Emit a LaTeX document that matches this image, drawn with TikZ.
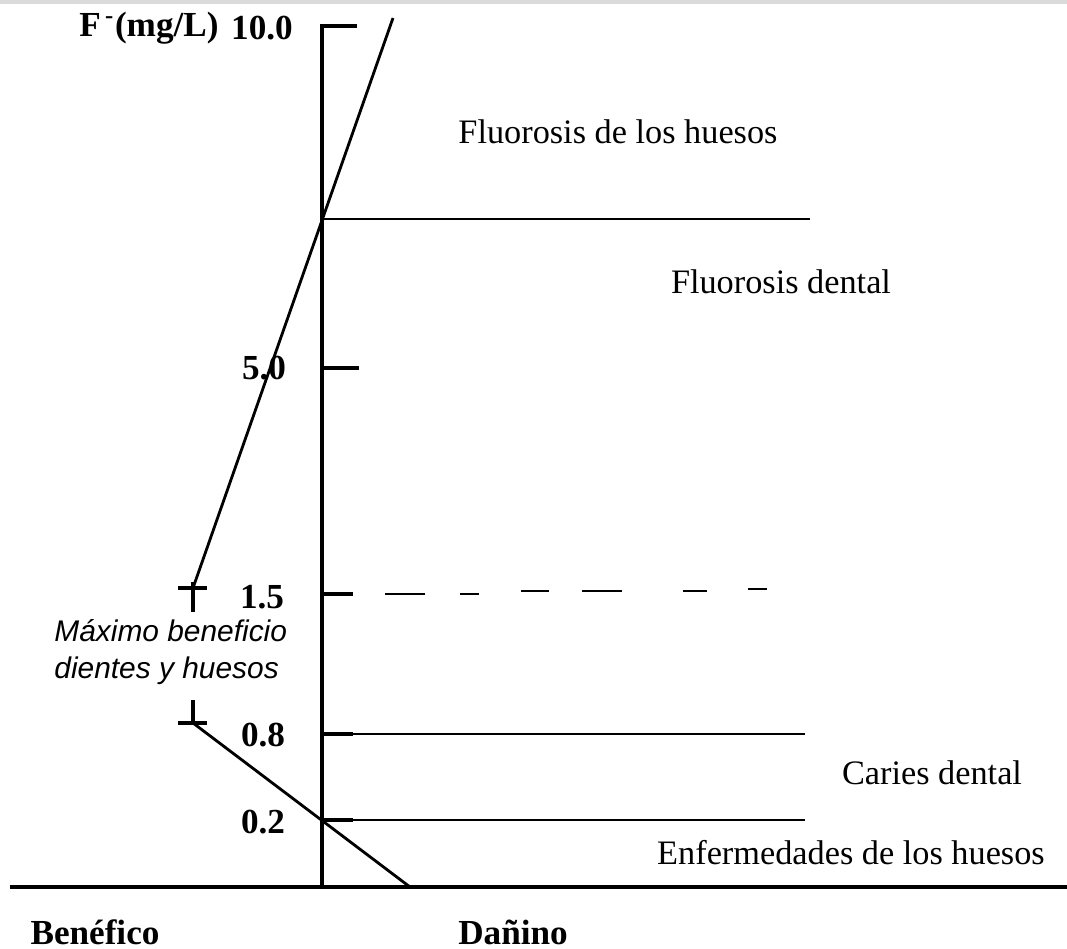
\documentclass[tikz,border=0pt]{standalone}
\usepackage{fontspec}
\setmainfont{Liberation Serif}
\setsansfont{Liberation Sans}
\usepackage{tikz}

\begin{document}
\begin{tikzpicture}[x=0.01cm,y=-0.01cm,
  axisline/.style={line width=1.2pt},
  zoneline/.style={line width=0.55pt},
  curveline/.style={line width=0.8pt},
  crossmark/.style={line width=0.9pt},
  ticklabel/.style={font=\fontsize{10}{12}\selectfont\bfseries},
  sidelabel/.style={font=\fontsize{10}{12}\selectfont\bfseries, inner sep=1pt},
  zonelabel/.style={font=\fontsize{9.75}{12}\selectfont},
  notelabel/.style={font=\fontsize{8.5}{10.5}\selectfont\sffamily\itshape, align=left, anchor=west}]
\useasboundingbox (0,0) rectangle (1067,949);

% Top band
\fill[black!14] (0,0) rectangle (1067,4);

% Axes
\draw[axisline] (357,26) -- (322,26) -- (322,887);
\draw[axisline] (10,887) -- (1067,887);

% Ticks
\draw[axisline] (322,368) -- (359,368);
\draw[axisline] (322,594) -- (353,594);
\draw[axisline] (322,734) -- (353,734);
\draw[axisline] (322,820) -- (353,820);

% Zone limits
\draw[zoneline] (322,219) -- (810,219);
\draw[zoneline] (322,734) -- (805,734);
\draw[zoneline] (322,820) -- (805,820);

% Dashed limit at 1.5
\foreach \xa/\xb/\yy in {385/425/594, 460/479/594, 521/549/591, 582/622/591, 683/707/591, 748/767/589}
  \draw[zoneline] (\xa,\yy) -- (\xb,\yy);

% Curves
\draw[curveline] (193,588) -- (393,18);
\draw[curveline] (193,723) -- (410,887);

% Crosses
\draw[crossmark] (193,582) -- (193,612);
\draw[crossmark] (178,588) -- (207,588);
\draw[crossmark] (193,700) -- (193,723);
\draw[crossmark] (178,723) -- (207,723);

% Labels
\node[ticklabel] (unit) at (149,28) {F\textsuperscript{\,-}(mg/L)};
\node[ticklabel] (t100) at (262,28) {10.0};
\node[ticklabel] (t50) at (264,368) {5.0};
\node[ticklabel] (t15) at (262,597) {1.5};
\node[ticklabel] (t08) at (263,735) {0.8};
\node[ticklabel] (t02) at (263,822) {0.2};

\node[zonelabel] (bone) at (618,132) {Fluorosis de los huesos};
\node[zonelabel] (dental) at (781,282) {Fluorosis dental};
\node[zonelabel] (caries) at (932,773) {Caries dental};
\node[zonelabel] (disease) at (851,853) {Enfermedades de los huesos};

\node[notelabel] (best) at (42,652) {Máximo beneficio\\dientes y huesos};

\node[sidelabel] (good) at (95,932) {Benéfico};
\node[sidelabel] (bad) at (513,932) {Dañino};

\end{tikzpicture}
\end{document}
